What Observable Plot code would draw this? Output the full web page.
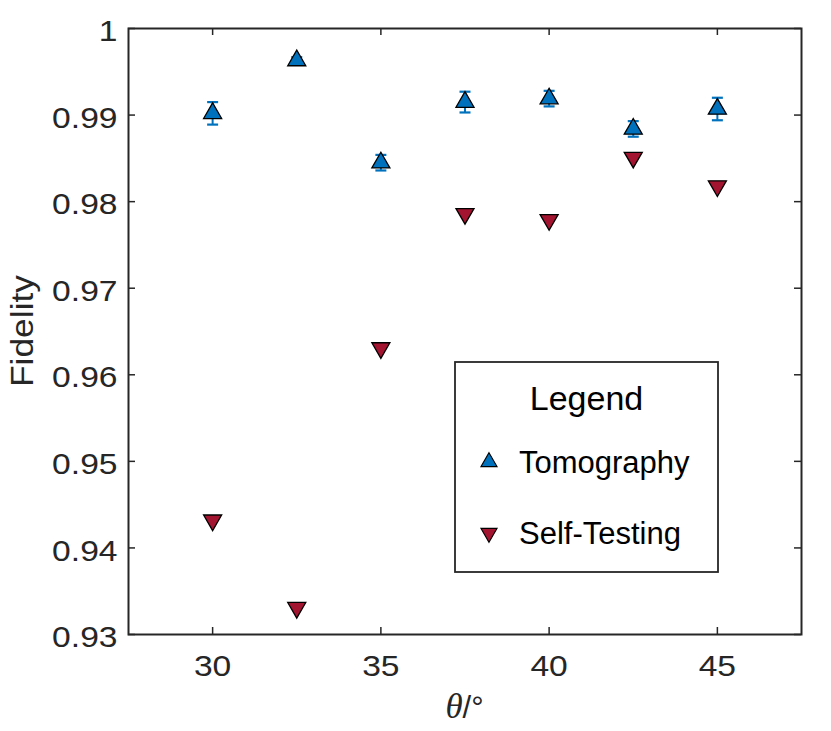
<!DOCTYPE html>
<html>
<head>
<meta charset="utf-8">
<script src="https://cdn.jsdelivr.net/npm/d3@7"></script>
<script src="https://cdn.jsdelivr.net/npm/@observablehq/plot@0.6"></script>
<style>
  html, body { margin: 0; padding: 0; background: #fff; }
</style>
</head>
<body>
<div id="chart"></div>
<script>
// ---- data ----
const theta = [30, 32.5, 35, 37.5, 40, 42.5, 45];
const tomography = [0.9902, 0.9963, 0.9845, 0.9915, 0.9919, 0.9884, 0.9907];
const tomographyErr = [0.0013, 0.0004, 0.0009, 0.0012, 0.0009, 0.0009, 0.0013];
const selfTesting = [0.9432, 0.9331, 0.9631, 0.9786, 0.9779, 0.9851, 0.9818];
const xTicks = [30, 35, 40, 45];
const yTicks = [0.93, 0.94, 0.95, 0.96, 0.97, 0.98, 0.99, 1];
const seriesNames = ["Tomography", "Self-Testing"];
const seriesColors = ["#0072BD", "#A2142F"];

const tomoData = theta.map((t, i) => ({theta: t, value: tomography[i], lo: tomography[i] - tomographyErr[i], hi: tomography[i] + tomographyErr[i]}));
const selfData = theta.map((t, i) => ({theta: t, value: selfTesting[i]}));

const axisColor = "#262626";
const W = 831, H = 731;
const mL = 128, mR = 30, mT = 28, mB = 97;
const fw = W - mL - mR, fh = H - mT - mB;
const tickLen = 7;

const triUp = {draw(ctx, size) {
  const y = -Math.sqrt(size / (3 * Math.sqrt(3)));
  ctx.moveTo(0, 2 * y); ctx.lineTo(-Math.sqrt(3) * y, -y); ctx.lineTo(Math.sqrt(3) * y, -y); ctx.closePath();
}};
const triDown = {draw(ctx, size) {
  const y = -Math.sqrt(size / (3 * Math.sqrt(3)));
  ctx.moveTo(0, -2 * y); ctx.lineTo(-Math.sqrt(3) * y, y); ctx.lineTo(Math.sqrt(3) * y, y); ctx.closePath();
}};
const capSym = {draw(ctx) { ctx.moveTo(-5.5, 0); ctx.lineTo(5.5, 0); }};

const plot = Plot.plot({
  width: W, height: H,
  marginLeft: mL, marginRight: mR, marginTop: mT, marginBottom: mB,
  style: {fontFamily: "'Liberation Sans', Arial, sans-serif", fontSize: "30px", color: axisColor, background: "#fff"},
  x: {domain: [27.5, 47.5]},
  y: {domain: [0.93, 1]},
  marks: [
    Plot.axisX({ticks: xTicks, tickSize: 0, tickPadding: 20, label: null, tickFormat: d => String(d), fill: axisColor}),
    Plot.axisY({ticks: yTicks, tickSize: 0, tickPadding: 11, dy: 3, label: null, tickFormat: d => String(d), fill: axisColor}),
    Plot.ruleX(xTicks, {x: d => d, insetTop: fh - tickLen, stroke: axisColor, strokeWidth: 1.5}),
    Plot.ruleX(xTicks, {x: d => d, insetBottom: fh - tickLen, stroke: axisColor, strokeWidth: 1.5}),
    Plot.ruleY(yTicks, {y: d => d, insetRight: fw - tickLen, stroke: axisColor, strokeWidth: 1.5}),
    Plot.ruleY(yTicks, {y: d => d, insetLeft: fw - tickLen, stroke: axisColor, strokeWidth: 1.5}),
    Plot.frame({stroke: axisColor, strokeWidth: 2}),
    Plot.ruleX(tomoData, {x: "theta", y1: "lo", y2: "hi", stroke: seriesColors[0], strokeWidth: 2}),
    Plot.dot(tomoData, {x: "theta", y: "lo", symbol: capSym, stroke: seriesColors[0], strokeWidth: 2.2, fill: "none"}),
    Plot.dot(tomoData, {x: "theta", y: "hi", symbol: capSym, stroke: seriesColors[0], strokeWidth: 2.2, fill: "none"}),
    Plot.dot(tomoData, {x: "theta", y: "value", symbol: triUp, r: 6.7, fill: seriesColors[0], stroke: "#000", strokeWidth: 1.3}),
    Plot.dot(selfData, {x: "theta", y: "value", symbol: triDown, r: 6.7, fill: seriesColors[1], stroke: "#000", strokeWidth: 1.3})
  ]
});

document.getElementById("chart").appendChild(plot);
const svg = d3.select(plot);

// axis labels
svg.append("text")
  .attr("transform", `translate(33,${mT + fh / 2}) rotate(-90)`)
  .attr("text-anchor", "middle")
  .attr("class", "stretch")
  .style("font-size", "31px")
  .attr("fill", axisColor)
  .text("Fidelity");

const xl = svg.append("text")
  .attr("x", mL + fw / 2)
  .attr("y", 718)
  .attr("text-anchor", "middle")
  .attr("fill", axisColor);
xl.append("tspan").style("font-family", "'Liberation Serif', 'Times New Roman', serif").style("font-style", "italic").style("font-size", "35px").text("θ");
xl.append("tspan").style("font-size", "31px").text("/°");

// legend
const lg = svg.append("g");
lg.append("rect").attr("x", 455).attr("y", 362).attr("width", 263).attr("height", 210)
  .attr("fill", "#fff").attr("stroke", axisColor).attr("stroke-width", 1.8);
lg.append("text").attr("x", 586.5).attr("y", 410).attr("text-anchor", "middle")
  .style("font-size", "34px").attr("fill", "#000").text("Legend");
const syms = [triUp, triDown];
const rowY = [462, 533];
seriesNames.forEach((name, i) => {
  lg.append("path")
    .attr("transform", `translate(489,${rowY[i]})`)
    .attr("d", d3.symbol(syms[i], Math.PI * 6 * 6)())
    .attr("fill", seriesColors[i]).attr("stroke", "#000").attr("stroke-width", 1.1);
  lg.append("text").attr("x", 519).attr("y", rowY[i] + 11)
    .attr("text-anchor", "start")
    .style("font-size", "31px").attr("fill", "#000").text(name);
});

// widen glyphs to match the reference's broad lettering
function stretch(sel, k) {
  sel.each(function() {
    const len = this.getComputedTextLength();
    if (len > 0) {
      this.setAttribute("textLength", (len * k).toFixed(2));
      this.setAttribute("lengthAdjust", "spacingAndGlyphs");
    }
  });
}
stretch(svg.selectAll('g[aria-label="x-axis tick label"] text'), 1.12);
stretch(svg.selectAll('g[aria-label="y-axis tick label"] text'), 1.12);
stretch(svg.selectAll('text.stretch'), 1.14);
</script>
</body>
</html>
